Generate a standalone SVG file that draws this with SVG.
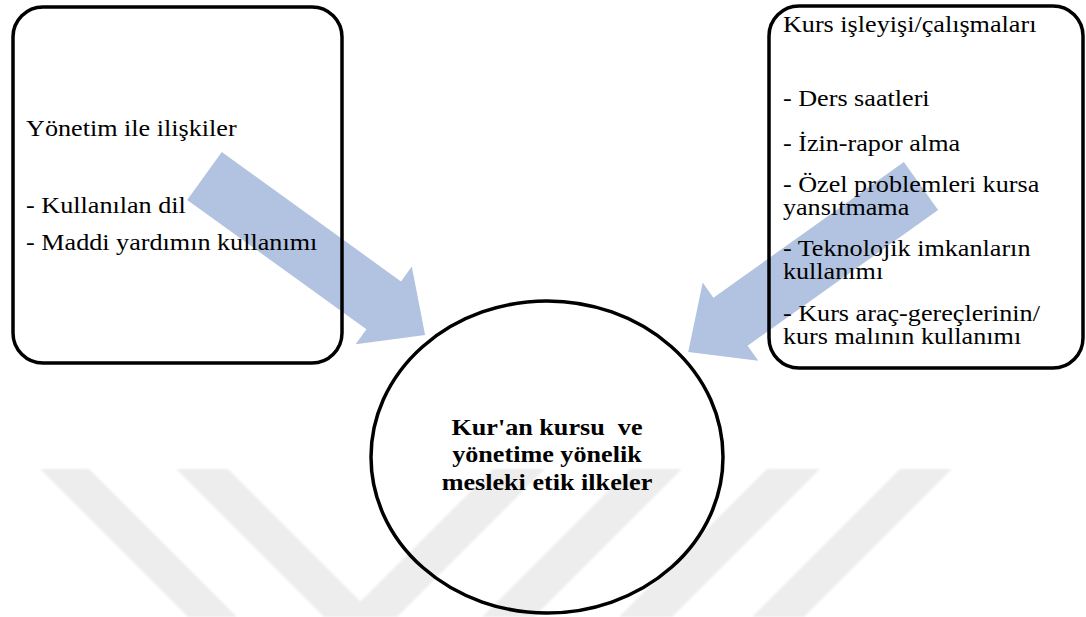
<svg xmlns="http://www.w3.org/2000/svg" width="1086" height="617" viewBox="0 0 1086 617">
  <defs>
    <style>
      .box { fill: none; stroke: #000; stroke-width: 3.5; }
      .txt { font-family: "Liberation Serif", "Times New Roman", serif; font-size: 24px; fill: #000; }
      .bold { font-weight: bold; text-anchor: middle; white-space: pre; }
      .flow { fill: #b1c3e0; stroke: none; }
      .wm { fill: #ededed; }
    </style>
    <filter id="soft" x="-5%" y="-5%" width="110%" height="110%">
      <feGaussianBlur stdDeviation="1.2"/>
    </filter>
  </defs>

  <rect width="1086" height="617" fill="#fff"/>

  <!-- faint background stripes -->
  <g id="background-stripes" class="wm" filter="url(#soft)">
    <polygon points="40,469 89,469 237,617 188,617"/>
    <polygon points="176,469 228,469 376,617 324,617"/>
    <polygon points="493,469 545,469 397,617 345,617"/>
    <polygon points="630,469 682,469 534,617 482,617"/>
    <polygon points="767,469 820,469 672,617 619,617"/>
    <polygon points="900,469 952,469 804,617 752,617"/>
  </g>

  <!-- block arrows pointing at the central node -->
  <g id="connectors">
    <polygon class="flow" points="221.8,152.1 401,281.4 411.8,266.4 425.1,335.1 355.6,344.2 366.4,329.2 187.2,199.9"/>
    <polygon class="flow" points="903.9,162 713.4,297.7 702.7,282.6 688.2,351.9 758.3,360.8 747.6,345.7 938.1,210"/>
  </g>

  <g id="node-yonetim">
    <rect class="box" x="13" y="7" width="329" height="356" rx="30" ry="30"/>
    <g transform="scale(1.09 1)">
      <text class="txt" x="23.9" y="136">Yönetim ile ilişkiler</text>
      <text class="txt" x="23.9" y="213">- Kullanılan dil</text>
      <text class="txt" x="23.9" y="250.5">- Maddi yardımın kullanımı</text>
    </g>
  </g>

  <g id="node-kurs">
    <rect class="box" x="769" y="6" width="314" height="362" rx="30" ry="30"/>
    <g transform="scale(1.09 1)">
      <text class="txt" x="718.3" y="32">Kurs işleyişi/çalışmaları</text>
      <text class="txt" x="718.3" y="106.5">- Ders saatleri</text>
      <text class="txt" x="718.3" y="151.5">- İzin-rapor alma</text>
      <text class="txt" x="718.3" y="192.5">- Özel problemleri kursa</text>
      <text class="txt" x="718.3" y="215">yansıtmama</text>
      <text class="txt" x="718.3" y="256.5">- Teknolojik imkanların</text>
      <text class="txt" x="718.3" y="279">kullanımı</text>
      <text class="txt" x="718.3" y="321.5">- Kurs araç-gereçlerinin/</text>
      <text class="txt" x="718.3" y="344">kurs malının kullanımı</text>
    </g>
  </g>

  <g id="node-etik">
    <ellipse class="box" cx="547" cy="457" rx="176" ry="156"/>
    <g transform="scale(1.09 1)">
      <text class="txt bold" x="501.8" y="435">Kur'an kursu  ve</text>
      <text class="txt bold" x="501.8" y="462.5">yönetime yönelik</text>
      <text class="txt bold" x="501.8" y="490">mesleki etik ilkeler</text>
    </g>
  </g>
</svg>
